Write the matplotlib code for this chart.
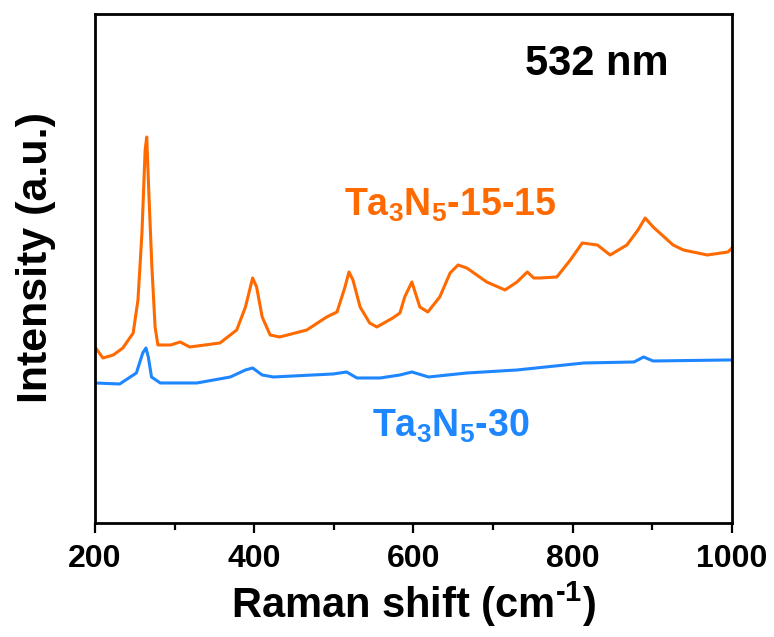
import matplotlib
matplotlib.use('Agg')
from matplotlib import pyplot as plt
from matplotlib.ticker import MultipleLocator

# Raman spectra, values (intensity in arbitrary units)
shift_1515 = [200, 210, 223, 235, 248, 254, 259, 263, 265, 268, 271.5, 275.5, 279, 295, 307,
              319, 357, 378, 389, 398, 403, 410, 420, 432, 466, 491, 504, 514, 519, 524,
              533, 545, 554, 574, 583, 589, 598, 608, 618, 633, 646, 656, 667, 692, 715,
              730, 743, 751, 759, 780, 797, 812, 831, 847, 868, 882, 891, 901, 926, 939,
              969, 995, 1000]
int_1515 = [176, 165, 168, 175, 190, 223, 290, 373, 386, 323, 256, 196, 178, 178, 181,
            176, 180, 193, 216, 245, 236, 206, 188, 186, 193, 206, 211, 236, 251, 243,
            216, 200, 196, 205, 210, 226, 241, 216, 211, 226, 250, 258, 255, 241, 233,
            241, 251, 245, 245, 246, 263, 280, 278, 268, 278, 293, 305, 296, 278, 273,
            268, 271, 275]

shift_30 = [200, 231, 252, 260, 264, 267, 271, 282, 328, 370, 389, 398, 410, 424, 499,
            516, 529, 558, 583, 598, 619, 667, 730, 814, 877, 889, 901, 995, 1000]
int_30 = [140, 139, 150, 170, 175, 166, 146, 140, 140, 146, 153, 155, 148, 146, 149,
          151, 145, 145, 148, 151, 146, 150, 153, 160, 161, 166, 162, 163, 163]

orange = '#FF6A00'
blue = '#1E86FF'

plt.rcParams['font.family'] = ['Liberation Sans', 'DejaVu Sans']
plt.rcParams['font.weight'] = 'bold'
plt.rcParams['mathtext.fontset'] = 'custom'
plt.rcParams['mathtext.rm'] = 'Liberation Sans:bold'
plt.rcParams['mathtext.it'] = 'Liberation Sans:bold'
plt.rcParams['mathtext.bf'] = 'Liberation Sans:bold'
plt.rcParams['mathtext.default'] = 'rm'

fig = plt.figure(figsize=(7.74, 6.37), dpi=100)
ax = fig.add_axes([0.1227, 0.179, 0.8230, 0.7998])

ax.plot(shift_1515, int_1515, color=orange, lw=2.2)
ax.plot(shift_30, int_30, color=blue, lw=2.2)

ax.set_xlim(200, 1000)
ax.set_ylim(0, 509.5)
ax.xaxis.set_major_locator(MultipleLocator(200))
ax.xaxis.set_minor_locator(MultipleLocator(100))
ax.set_yticks([])
for s in ax.spines.values():
    s.set_linewidth(2)
ax.tick_params(axis='x', which='major', direction='out', length=7, width=1.6,
               labelsize=23, pad=8)
ax.tick_params(axis='x', which='minor', direction='out', length=5, width=1.6)

ax.set_xlabel(r'Raman shift (cm$^{\text{-}1}$)', fontsize=30, fontweight='bold', labelpad=4)
ax.set_ylabel('Intensity (a.u.)', fontsize=31, fontweight='bold')
ax.yaxis.set_label_coords(-0.061, 0.522)

ax.text(830, 448, '532 nm', fontsize=30, fontweight='bold', color='black',
        ha='center', va='baseline')
ax.text(646, 307, r'Ta$_3$N$_5$-15-15', fontsize=27, fontweight='bold', color=orange,
        ha='center', va='baseline')
ax.text(647, 86, r'Ta$_3$N$_5$-30', fontsize=27, fontweight='bold', color=blue,
        ha='center', va='baseline')

plt.savefig('out.png', dpi=100)
